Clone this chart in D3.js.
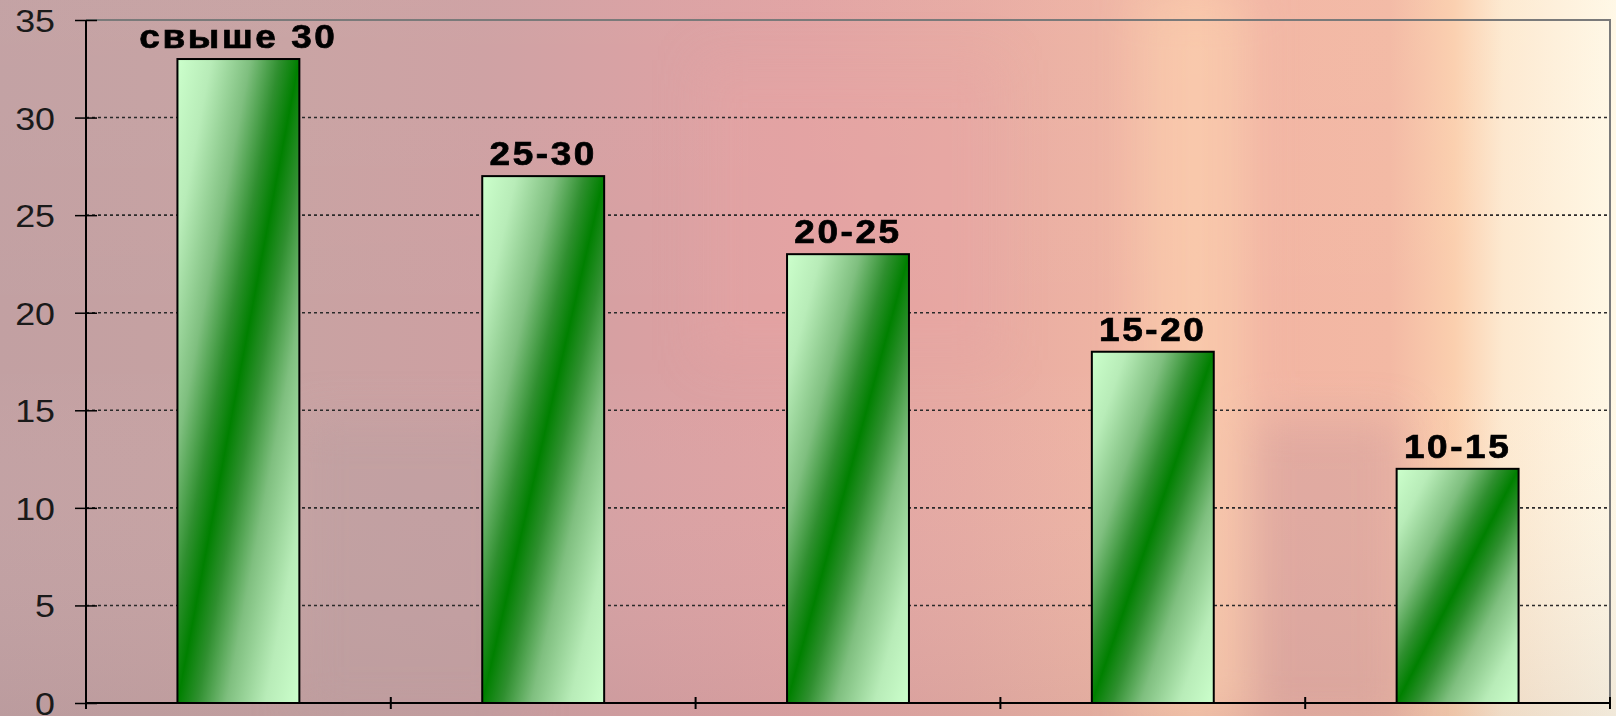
<!DOCTYPE html>
<html>
<head>
<meta charset="utf-8">
<script src="https://cdn.jsdelivr.net/npm/d3@7"></script>
<style>
  html, body { margin: 0; padding: 0; background: #c4a2a2; }
  svg { display: block; }
</style>
</head>
<body>
<svg id="chart" width="1616" height="716"></svg>
<script>
// data
var categories = ["свыше 30", "25-30", "20-25", "15-20", "10-15"];
var values = [33, 27, 23, 18, 12];
var yTicks = [0, 5, 10, 15, 20, 25, 30, 35];

var svg = d3.select("#chart"),
    width = 1616,
    height = 716,
    plotLeft = 86, plotRight = 1610, plotTop = 20, plotBottom = 703;

var defs = svg.append("defs");

// background: blurred photo-like wash, pink-mauve on the left to cream on the right
var bg = defs.append("linearGradient").attr("id", "bg")
    .attr("x1", 0).attr("y1", 0).attr("x2", 1).attr("y2", 0);
[[0, "#c2a0a2"], [0.18, "#c8a2a2"], [0.3, "#cea0a2"], [0.4, "#d9a0a2"],
 [0.5, "#e1a2a2"], [0.6, "#e7aaa2"], [0.68, "#eeb3a3"], [0.74, "#f7c0a6"],
 [0.78, "#f2b5a3"], [0.86, "#f3b9a4"], [0.9, "#fbcfae"], [0.93, "#fde9d0"],
 [1, "#fff8e6"]].forEach(function(s){
  bg.append("stop").attr("offset", s[0]).attr("stop-color", s[1]);
});

// darker lower band on the left/middle
var shade = defs.append("linearGradient").attr("id", "shade")
    .attr("x1", 0).attr("y1", 0).attr("x2", 0).attr("y2", 1);
shade.append("stop").attr("offset", 0).attr("stop-color", "#ffffff").attr("stop-opacity", 0.03);
shade.append("stop").attr("offset", 0.5).attr("stop-color", "#ffffff").attr("stop-opacity", 0);
shade.append("stop").attr("offset", 1).attr("stop-color", "#8a7a80").attr("stop-opacity", 0.12);

defs.append("filter").attr("id", "blur")
  .attr("x", "-30%").attr("y", "-30%").attr("width", "160%").attr("height", "160%")
  .append("feGaussianBlur").attr("stdDeviation", 22);

// bar fill: diagonal, dark green along the bottom-left/top-right diagonal
var barGrad = defs.append("linearGradient").attr("id", "barfill")
    .attr("x1", 0).attr("y1", 0).attr("x2", 1).attr("y2", 1);
[[0, "#ccffcc"], [0.14, "#b8ecb8"], [0.3, "#7fbf7f"], [0.42, "#2f8f2f"],
 [0.5, "#008000"], [0.58, "#2f8f2f"], [0.7, "#7fbf7f"], [0.86, "#b8ecb8"],
 [1, "#ccffcc"]].forEach(function(s){
  barGrad.append("stop").attr("offset", s[0]).attr("stop-color", s[1]);
});

svg.append("rect").attr("width", width).attr("height", height).attr("fill", "url(#bg)");
svg.append("rect").attr("width", width).attr("height", height).attr("fill", "url(#shade)");

// a few soft patches to give the wash some texture
var patches = svg.append("g").attr("filter", "url(#blur)");
patches.append("rect").attr("x", 1140).attr("y", 0).attr("width", 110).attr("height", 716)
  .attr("fill", "#fcd0b0").attr("opacity", 0.5);
patches.append("rect").attr("x", 1250).attr("y", 420).attr("width", 150).attr("height", 300)
  .attr("fill", "#c8969a").attr("opacity", 0.4);
patches.append("rect").attr("x", 300).attr("y", 420).attr("width", 220).attr("height", 296)
  .attr("fill", "#b89ea0").attr("opacity", 0.45);
patches.append("rect").attr("x", 700).attr("y", 60).attr("width", 300).attr("height", 300)
  .attr("fill", "#e8a4a4").attr("opacity", 0.35);

var x = d3.scaleBand()
    .domain(categories)
    .range([plotLeft, plotRight])
    .paddingInner(0.6)
    .paddingOuter(0.3);

var y = d3.scaleLinear()
    .domain([0, 35])
    .range([plotBottom, plotTop]);

var step = x.step();

// plot-area border (top and right)
svg.append("path")
  .attr("d", "M" + plotLeft + "," + plotTop + "H" + plotRight + "V" + plotBottom)
  .attr("fill", "none")
  .attr("stroke", "#7a7a7a")
  .attr("stroke-width", 2);

// gridlines
svg.append("g")
  .selectAll("line")
  .data(yTicks.filter(function(d){ return d > 0 && d < 35; }))
  .enter()
  .append("line")
  .attr("x1", plotLeft).attr("x2", plotRight)
  .attr("y1", function(d){ return y(d); })
  .attr("y2", function(d){ return y(d); })
  .attr("stroke", "#2a2a2a")
  .attr("stroke-width", 1.6)
  .attr("stroke-dasharray", "3,3");

// bars
svg.append("g")
  .selectAll("rect")
  .data(values)
  .enter()
  .append("rect")
  .attr("x", function(d, i){ return x(categories[i]); })
  .attr("y", function(d){ return y(d); })
  .attr("width", x.bandwidth())
  .attr("height", function(d){ return y(0) - y(d); })
  .attr("fill", "url(#barfill)")
  .attr("stroke", "#000")
  .attr("stroke-width", 2);

// bar labels (category names above the bars)
svg.append("g")
  .selectAll("text")
  .data(values)
  .enter()
  .append("text")
  .attr("transform", function(d, i){
    return "translate(" + (x(categories[i]) + x.bandwidth() / 2) + "," + (y(d) - 11) + ") scale(1.12,1)";
  })
  .attr("text-anchor", "middle")
  .style("font-family", "'Liberation Sans', Arial, sans-serif")
  .style("font-weight", "bold")
  .style("font-size", "33px")
  .style("letter-spacing", "2.3px")
  .attr("fill", "#000")
  .attr("stroke", "#000")
  .attr("stroke-width", 0.7)
  .text(function(d, i){ return categories[i]; });

// y axis
var yAxis = d3.axisLeft(y)
  .tickValues(yTicks)
  .tickSize(11)
  .tickPadding(20)
  .tickFormat(d3.format("d"));

var gy = svg.append("g")
  .attr("transform", "translate(" + plotLeft + ",0)")
  .call(yAxis);
gy.select(".domain").attr("stroke", "#000").attr("stroke-width", 2)
  .attr("d", "M0," + plotBottom + "V" + plotTop);
gy.selectAll(".tick line").attr("x1", 11).attr("x2", -11)
  .attr("stroke", "#000").attr("stroke-width", 1.5);
// stretch tick labels horizontally like the original
gy.selectAll(".tick text")
  .attr("x", -31 / 1.12)
  .attr("dy", "0.36em")
  .attr("transform", "scale(1.12,1)")
  .style("font-family", "'Liberation Sans', Arial, sans-serif")
  .style("font-size", "32px")
  .attr("fill", "#1a1a1a");

// x axis: baseline plus ticks between categories
svg.append("line")
  .attr("x1", plotLeft).attr("x2", plotRight)
  .attr("y1", plotBottom).attr("y2", plotBottom)
  .attr("stroke", "#000").attr("stroke-width", 2);

svg.append("g")
  .selectAll("line")
  .data(d3.range(categories.length + 1))
  .enter()
  .append("line")
  .attr("x1", function(i){ return plotLeft + i * step; })
  .attr("x2", function(i){ return plotLeft + i * step; })
  .attr("y1", plotBottom - 6)
  .attr("y2", plotBottom + 6)
  .attr("stroke", "#000")
  .attr("stroke-width", 2);
</script>
</body>
</html>
